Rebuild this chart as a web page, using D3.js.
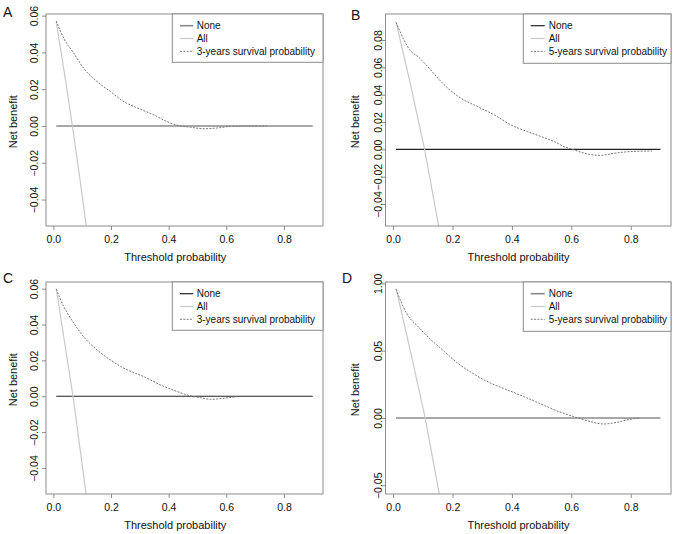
<!DOCTYPE html>
<html><head><meta charset="utf-8">
<script src="https://cdn.jsdelivr.net/npm/d3@7"></script>
<style>
body{margin:0;background:#fff;}
svg{display:block;font-family:"Liberation Sans",Arial,Helvetica,sans-serif;}
</style></head>
<body><svg id="c" width="677" height="534"></svg>
<script>
// ---- data ----
const xTickValues = [0, 0.2, 0.4, 0.6, 0.8];
const xTickLabels = ["0.0", "0.2", "0.4", "0.6", "0.8"];

const yTicksA = [-0.04, -0.02, 0, 0.02, 0.04, 0.06];
const yLabelsA = ["\u22120.04", "\u22120.02", "0.00", "0.02", "0.04", "0.06"];
const yTicksB = [-0.04, -0.02, 0, 0.02, 0.04, 0.06, 0.08];
const yLabelsB = ["\u22120.04", "\u22120.02", "0.00", "0.02", "0.04", "0.06", "0.08"];
const yTicksC = [-0.04, -0.02, 0, 0.02, 0.04, 0.06];
const yLabelsC = ["\u22120.04", "\u22120.02", "0.00", "0.02", "0.04", "0.06"];
const yTicksD = [-0.05, 0, 0.05, 0.10];
const yLabelsD = ["\u22120.05", "0.00", "0.05", "1.00"];

const noneThreshold = [0.01, 0.9];
const noneValues = [0, 0];

const allThresholdA = [0.01, 0.04, 0.066, 0.09, 0.12];
const allValuesA = [0.0566, 0.0271, 0, -0.0264, -0.0614];
const allThresholdB = [0.01, 0.06, 0.106, 0.16];
const allValuesB = [0.093, 0.046, 0, -0.064];
const allThresholdC = [0.01, 0.04, 0.068, 0.12];
const allValuesC = [0.06, 0.029, 0, -0.062];
const allThresholdD = [0.01, 0.06, 0.108, 0.16];
const allValuesD = [0.096, 0.048, 0, -0.062];

const modelThresholdA = [0.01,0.036,0.071,0.105,0.152,0.198,0.245,0.302,0.349,0.395,0.436,0.476,0.523,0.569,0.616,0.685,0.741];
const modelValuesA = [0.0571,0.0477,0.0395,0.0314,0.0241,0.0187,0.0132,0.0091,0.006,0.0023,0.0002,-0.0007,-0.0015,-0.0011,-0.0002,0,0];
const modelThresholdB = [0.01,0.034,0.056,0.084,0.117,0.151,0.185,0.229,0.285,0.341,0.397,0.453,0.509,0.543,0.576,0.61,0.654,0.699,0.744,0.789,0.872];
const modelValuesB = [0.0929,0.0812,0.0727,0.0678,0.0604,0.052,0.0446,0.0373,0.0312,0.0251,0.0178,0.0129,0.0085,0.0056,0.0019,-0.0005,-0.0034,-0.0044,-0.0029,-0.0018,-0.0012];
const modelThresholdC = [0.01,0.036,0.071,0.105,0.152,0.198,0.245,0.314,0.372,0.43,0.476,0.511,0.546,0.592,0.639];
const modelValuesC = [0.0597,0.05,0.0407,0.0332,0.0258,0.0202,0.0156,0.0109,0.0063,0.0026,0.0002,-0.0008,-0.0017,-0.0011,-0.0002];
const modelThresholdD = [0.01,0.045,0.084,0.128,0.173,0.218,0.273,0.329,0.385,0.441,0.497,0.552,0.608,0.653,0.709,0.753,0.798,0.831];
const modelValuesD = [0.0956,0.0778,0.0678,0.058,0.0493,0.0406,0.0325,0.0258,0.0208,0.0158,0.0104,0.0052,0.001,-0.002,-0.0045,-0.0032,-0.001,0];

const panelLetters = ["A", "B", "C", "D"];
const seriesNames = ["None", "All"];
const modelNames = ["3-years survival probability", "5-years survival probability",
                    "3-years survival probability", "5-years survival probability"];
const xTitle = "Threshold probability";
const yTitle = "Net benefit";

// ---- layout ----
const panels = [
  {letter:panelLetters[0], L:46, R:323, T:14, B:226, yDom:[-0.0544,0.0609], yt:yTicksA, yl:yLabelsA,
   allT:allThresholdA, allV:allValuesA, mT:modelThresholdA, mV:modelValuesA, model:modelNames[0],
   noneColor:"#8a8a8a", noneW:1.6, lblOff:7.7, letterX:3, letterY:16.7, xTitleX:175.3, yTitleY:121.7, yTitleX:17.3,
   legX:172.3, legW:150.7, legH:48.3, legLine:[180,193.3], legText:196.7},
  {letter:panelLetters[1], L:385.5, R:671, T:14, B:226, yDom:[-0.0561,0.099], yt:yTicksB, yl:yLabelsB,
   allT:allThresholdB, allV:allValuesB, mT:modelThresholdB, mV:modelValuesB, model:modelNames[1],
   noneColor:"#222", noneW:1.2, lblOff:3.8, letterX:351, letterY:20, xTitleX:518.5, yTitleY:121.7, yTitleX:358.7,
   legX:523.3, legW:147.7, legH:49.3, legLine:[530.7,544.7], legText:548.7},
  {letter:panelLetters[2], L:46, R:323, T:282, B:494, yDom:[-0.0545,0.0637], yt:yTicksC, yl:yLabelsC,
   allT:allThresholdC, allV:allValuesC, mT:modelThresholdC, mV:modelValuesC, model:modelNames[2],
   noneColor:"#222", noneW:1.2, lblOff:7.7, letterX:3, letterY:283, xTitleX:175.3, yTitleY:379.7, yTitleX:17.3,
   legX:172.3, legW:150.7, legH:48.3, legLine:[180,193.3], legText:196.7},
  {letter:panelLetters[3], L:385.5, R:671, T:282, B:494, yDom:[-0.0565,0.101], yt:yTicksD, yl:yLabelsD,
   allT:allThresholdD, allV:allValuesD, mT:modelThresholdD, mV:modelValuesD, model:modelNames[3],
   noneColor:"#8a8a8a", noneW:1.6, lblOff:3.8, letterX:342, letterY:283, xTitleX:518.5, yTitleY:389.7, yTitleX:358.7,
   legX:523.3, legW:147.7, legH:49.3, legLine:[530.7,544.7], legText:548.7}
];

const svg = d3.select("#c");
const boxColor = "#8c8c8c";
const allColor = "#c8c8c8";
const modelColor = "#7a7a7a";
const textColor = "#111";

panels.forEach((p, i) => {
  const x = d3.scaleLinear().domain([-0.0256, 0.9356]).range([p.L, p.R]);
  const y = d3.scaleLinear().domain(p.yDom).range([p.B, p.T]);
  const g = svg.append("g");

  const clipId = "clip" + i;
  svg.append("clipPath").attr("id", clipId).append("rect")
    .attr("x", p.L).attr("y", p.T).attr("width", p.R - p.L).attr("height", p.B - p.T);

  const line = d3.line().x(d => x(d[0])).y(d => y(d[1]));
  const plot = g.append("g").attr("clip-path", `url(#${clipId})`);

  // None
  plot.append("path").datum(d3.zip(noneThreshold, noneValues))
    .attr("d", line).attr("fill", "none").attr("stroke", p.noneColor).attr("stroke-width", p.noneW);
  // All
  plot.append("path").datum(d3.zip(p.allT, p.allV))
    .attr("d", line).attr("fill", "none").attr("stroke", allColor).attr("stroke-width", 1.2);
  // Model
  plot.append("path").datum(d3.zip(p.mT, p.mV))
    .attr("d", d3.line().curve(d3.curveMonotoneX).x(d => x(d[0])).y(d => y(d[1])))
    .attr("fill", "none").attr("stroke", modelColor).attr("stroke-width", 1)
    .attr("stroke-dasharray", "2,1.3");

  // Box
  g.append("rect").attr("x", p.L).attr("y", p.T).attr("width", p.R - p.L).attr("height", p.B - p.T)
    .attr("fill", "none").attr("stroke", boxColor).attr("stroke-width", 1);

  // X axis
  const xa = g.append("g").attr("transform", `translate(0,${p.B})`)
    .call(d3.axisBottom(x).tickValues(xTickValues).tickFormat((d, k) => xTickLabels[k]).tickSize(4).tickSizeOuter(0));
  xa.select(".domain").remove();
  xa.selectAll("line").attr("stroke", boxColor);
  xa.selectAll("text").attr("y", 17).attr("dy", 0).attr("fill", textColor)
    .style("font-size", "10.5px").style("font-family", '"Liberation Sans",Arial,sans-serif');

  // Y axis
  const ya = g.append("g").attr("transform", `translate(${p.L},0)`)
    .call(d3.axisLeft(y).tickValues(p.yt).tickFormat((d, k) => p.yl[k]).tickSize(4).tickSizeOuter(0));
  ya.select(".domain").remove();
  ya.selectAll("line").attr("stroke", boxColor);
  ya.selectAll("text").attr("transform", "rotate(-90)").attr("x", 0).attr("y", -p.lblOff)
    .attr("dy", 0).attr("text-anchor", "middle").attr("fill", textColor)
    .style("font-size", "10.5px").style("font-family", '"Liberation Sans",Arial,sans-serif');

  // Titles
  g.append("text").attr("x", p.xTitleX).attr("y", p.B + 34.5).attr("text-anchor", "middle")
    .attr("fill", textColor).style("font-size", "11px").text(xTitle);
  g.append("text").attr("transform", `translate(${p.yTitleX},${p.yTitleY}) rotate(-90)`)
    .attr("text-anchor", "middle").attr("fill", textColor).style("font-size", "11px").text(yTitle);

  // Panel letter
  g.append("text").attr("x", p.letterX).attr("y", p.letterY).attr("fill", textColor)
    .style("font-size", "14px").text(p.letter);

  // Legend
  const lg = g.append("g");
  lg.append("rect").attr("x", p.legX).attr("y", p.T).attr("width", p.legW).attr("height", p.legH)
    .attr("fill", "#fff").attr("stroke", boxColor).attr("stroke-width", 1);
  const rows = [
    {name: seriesNames[0], color: p.noneColor, w: p.noneW, dash: null},
    {name: seriesNames[1], color: allColor, w: 1.2, dash: null},
    {name: p.model, color: modelColor, w: 1, dash: "2,1.3"}
  ];
  rows.forEach((r, k) => {
    const cy = p.T + 11.7 + k * 12.8;
    lg.append("line").attr("x1", p.legLine[0]).attr("x2", p.legLine[1]).attr("y1", cy).attr("y2", cy)
      .attr("stroke", r.color).attr("stroke-width", r.w).attr("stroke-dasharray", r.dash);
    lg.append("text").attr("x", p.legText).attr("y", cy + 3.6).attr("fill", textColor)
      .style("font-size", "10px").text(r.name);
  });
});
</script></body></html>
